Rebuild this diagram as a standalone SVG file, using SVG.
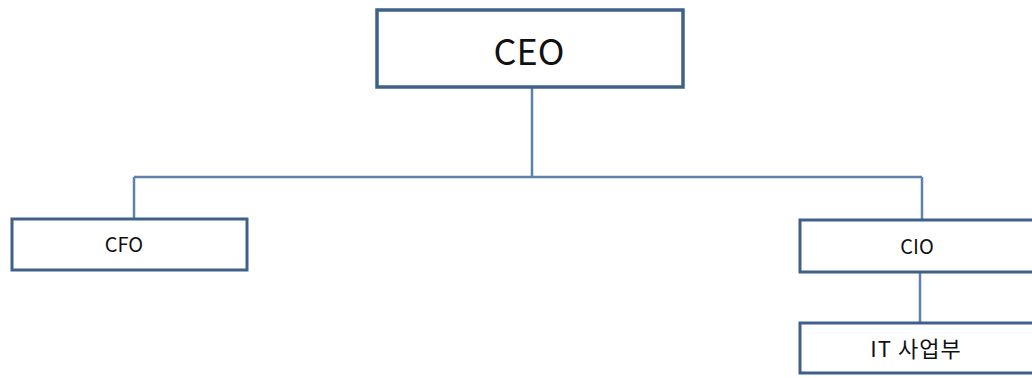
<svg xmlns="http://www.w3.org/2000/svg" width="1032" height="378" viewBox="0 0 1032 378">
<style>
.box{fill:#fff;stroke:#3f6189;stroke-width:3.5}
.sbox{fill:#fff;stroke:#3f6189;stroke-width:3}
.con{fill:none;stroke:#5d83a9;stroke-width:2.5}
text{font-family:"Noto Sans CJK KR","Open Sans",sans-serif;fill:#111;text-anchor:middle;dominant-baseline:central}
</style>
<rect width="1032" height="378" fill="#fff"/>
<g id="connectors">
<path class="con" d="M532 88V177M134 177H922M134 177V219M922 177V220M920 272V323"/>
</g>
<g id="ceo">
<rect class="box" x="377" y="10" width="306" height="77"/>
<text x="529" y="49" font-size="36">CEO</text>
</g>
<g id="cfo">
<rect class="sbox" x="12" y="219" width="235" height="51"/>
<text x="124" y="243" font-size="20">CFO</text>
</g>
<g id="cio">
<rect class="sbox" x="800" y="220" width="250" height="52"/>
<text x="917" y="245" font-size="20">CIO</text>
</g>
<g id="it">
<rect class="sbox" x="800" y="323" width="250" height="50"/>
<text x="916" y="347" font-size="22" letter-spacing="1">IT 사업부</text>
</g>
</svg>
